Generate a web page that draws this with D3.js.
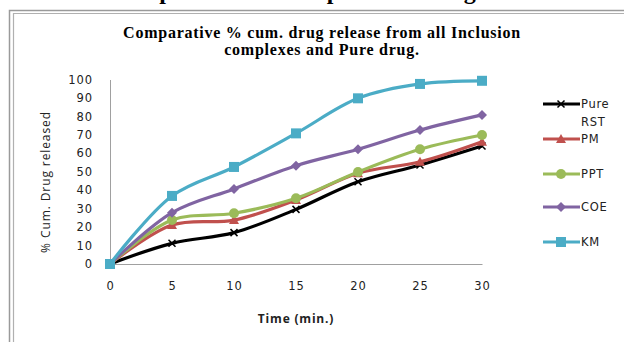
<!DOCTYPE html>
<html>
<head>
<meta charset="utf-8">
<script src="https://cdn.jsdelivr.net/npm/d3@7/dist/d3.min.js"></script>
<style>
  html, body { margin: 0; padding: 0; background: #fff; }
  svg { display: block; }
</style>
</head>
<body>
<div id="chart"></div>
<script>
// Dissolution data: % cumulative drug released at each sampling time
const times = [0, 5, 10, 15, 20, 25, 30];
const pureRST = [0, 11.2, 17.0, 29.6, 44.6, 53.7, 64.0];
const pm      = [0, 21.1, 23.8, 34.7, 49.2, 55.4, 66.3];
const ppt     = [0, 23.8, 27.5, 35.6, 49.9, 62.2, 69.9];
const coe     = [0, 27.8, 40.7, 53.3, 62.2, 72.6, 80.8];
const km      = [0, 36.9, 52.6, 70.8, 89.8, 97.6, 99.3];
const yTicks  = [0, 10, 20, 30, 40, 50, 60, 70, 80, 90, 100];
const xTicks  = [0, 5, 10, 15, 20, 25, 30];
const seriesNames = ["Pure RST", "PM", "PPT", "COE", "KM"];

const series = [
  { name: seriesNames[0], values: pureRST, color: "#000000", marker: "x" },
  { name: seriesNames[1], values: pm,      color: "#C0504D", marker: "triangle" },
  { name: seriesNames[2], values: ppt,     color: "#9BBB59", marker: "circle" },
  { name: seriesNames[3], values: coe,     color: "#8064A2", marker: "diamond" },
  { name: seriesNames[4], values: km,      color: "#4BACC6", marker: "square" }
];

const W = 624, H = 342;
const svg = d3.select("#chart").append("svg").attr("width", W).attr("height", H);

// Heading of the page above the figure, running off the top edge
svg.append("text")
  .attr("x", 110).attr("y", -1)
  .attr("font-family", "Liberation Serif, serif")
  .attr("font-weight", "bold").attr("font-size", 24)
  .attr("fill", "#000")
  .text("Comparative release profile of drug");

// Double frame around the chart
const frame = svg.append("g").attr("fill", "none");
frame.append("path").attr("d", "M9.5,342V10.5H624").attr("stroke", "#9a9a9a").attr("stroke-width", 1.5);
frame.append("path").attr("d", "M13.5,342V13.5H624").attr("stroke", "#b0b0b0").attr("stroke-width", 1.2);

// Title
const title = svg.append("text")
  .attr("text-anchor", "middle")
  .attr("font-family", "Liberation Serif, serif")
  .attr("font-weight", "bold").attr("font-size", 16)
  .attr("letter-spacing", 0.75)
  .attr("fill", "#000");
title.append("tspan").attr("x", 322).attr("y", 38).text("Comparative % cum. drug release from all Inclusion");
title.append("tspan").attr("x", 322).attr("y", 55).text("complexes and Pure drug.");

// Scales
const x = d3.scaleLinear().domain([0, 30]).range([110, 482]);
const y = d3.scaleLinear().domain([0, 100]).range([264, 79.5]);

const tickFont = "DejaVu Sans, Verdana, sans-serif";

// Y axis
const yAxis = svg.append("g").attr("transform", `translate(${x(0)},0)`)
  .call(d3.axisLeft(y).tickValues(yTicks).tickSize(0).tickPadding(17));
yAxis.select(".domain").attr("stroke", "#a0a0a0").attr("stroke-width", 1);
yAxis.selectAll("text").attr("font-family", tickFont).attr("font-size", 11.5)
  .attr("letter-spacing", 0.9).attr("fill", "#222");

// X axis
const xAxis = svg.append("g").attr("transform", `translate(0,${y(0)})`)
  .call(d3.axisBottom(x).tickValues(xTicks).tickSize(0).tickPadding(18));
xAxis.select(".domain").attr("stroke", "#a0a0a0").attr("stroke-width", 1);
xAxis.selectAll("text").attr("font-family", tickFont).attr("font-size", 11.5)
  .attr("letter-spacing", 0.9).attr("fill", "#222");

// Axis titles
svg.append("text")
  .attr("x", 296).attr("y", 323)
  .attr("text-anchor", "middle")
  .attr("font-family", "Open Sans, sans-serif").attr("font-weight", "bold").attr("font-size", 12)
  .attr("letter-spacing", 0.8)
  .attr("fill", "#222")
  .text("Time (min.)");
svg.append("text")
  .attr("transform", "translate(50,182) rotate(-90)")
  .attr("text-anchor", "middle")
  .attr("font-family", "Open Sans, sans-serif").attr("font-size", 12)
  .attr("letter-spacing", 0.9)
  .attr("fill", "#222")
  .text("% Cum. Drug released");

// Marker shapes
function drawMarker(g, type, color) {
  switch (type) {
    case "x":
      g.append("path").attr("d", "M-3.5,-3.5L3.5,3.5M-3.5,3.5L3.5,-3.5")
        .attr("stroke", color).attr("stroke-width", 1.5).attr("fill", "none");
      break;
    case "triangle":
      g.append("path").attr("d", "M0,-5L5,4L-5,4Z").attr("fill", color);
      break;
    case "circle":
      g.append("circle").attr("r", 5).attr("fill", color);
      break;
    case "diamond":
      g.append("path").attr("d", "M0,-5L5,0L0,5L-5,0Z").attr("fill", color);
      break;
    case "square":
      g.append("rect").attr("x", -5).attr("y", -5).attr("width", 10).attr("height", 10).attr("fill", color);
      break;
  }
}

// Smoothed lines with markers
const line = d3.line()
  .x((d, i) => x(times[i]))
  .y(d => y(d))
  .curve(d3.curveCatmullRom.alpha(0.5));

const plot = svg.append("g");
series.forEach(s => {
  const g = plot.append("g");
  g.append("path")
    .attr("d", line(s.values))
    .attr("fill", "none")
    .attr("stroke", s.color)
    .attr("stroke-width", 3.2)
    .attr("stroke-linejoin", "round");
  s.values.forEach((v, i) => {
    const m = g.append("g").attr("transform", `translate(${x(times[i])},${y(v)})`);
    drawMarker(m, s.marker, s.color);
  });
});

// Legend
const legendY = [104, 139, 174, 207, 242];
const legend = svg.append("g");
series.forEach((s, i) => {
  const g = legend.append("g").attr("transform", `translate(0,${legendY[i]})`);
  g.append("line").attr("x1", 543).attr("x2", 580).attr("y1", 0).attr("y2", 0)
    .attr("stroke", s.color).attr("stroke-width", 3.2);
  const m = g.append("g").attr("transform", "translate(561,0)");
  drawMarker(m, s.marker, s.color);
  const t = g.append("text").attr("x", 581).attr("y", 4)
    .attr("font-family", tickFont).attr("font-size", 11.5).attr("letter-spacing", 0.7)
    .attr("fill", "#222");
  const words = s.name.split(" ");
  t.append("tspan").attr("x", 581).attr("dy", 0).text(words[0]);
  if (words.length > 1) t.append("tspan").attr("x", 581).attr("dy", 18).text(words.slice(1).join(" "));
});
</script>
</body>
</html>
